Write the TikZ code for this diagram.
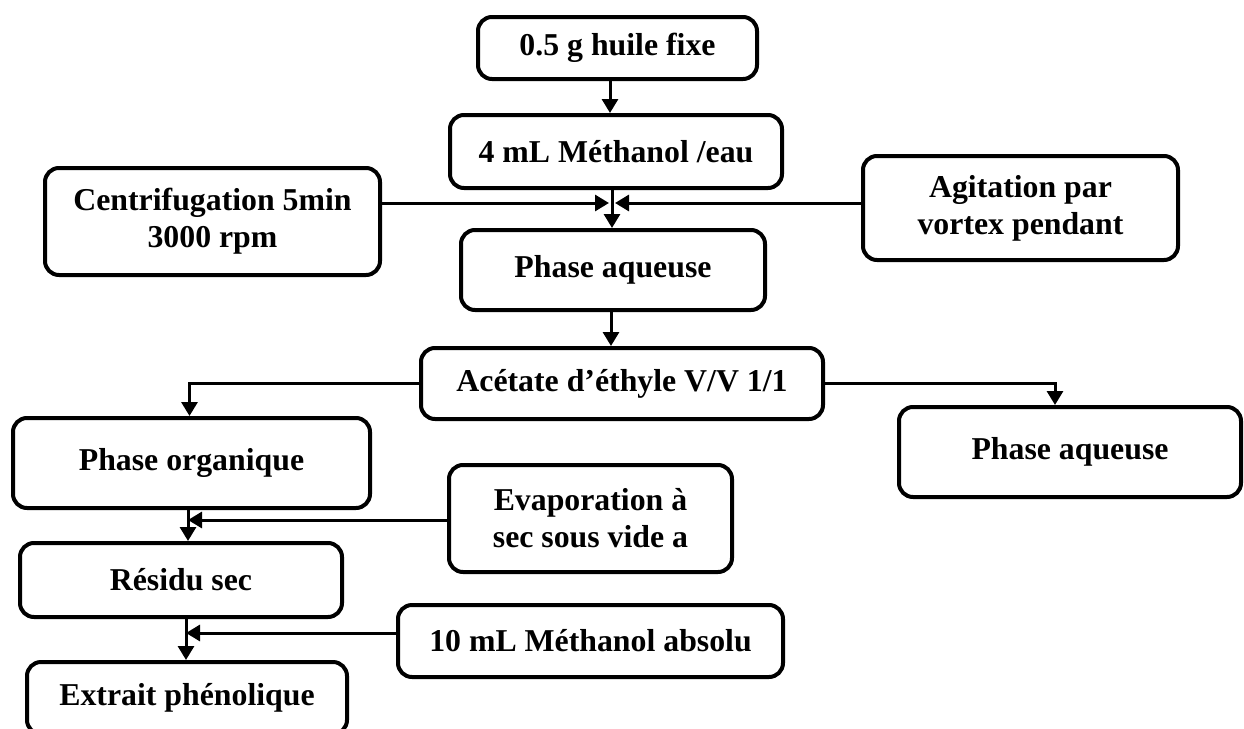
\documentclass[tikz,border=0pt]{standalone}
\usepackage{fontspec}
\setmainfont{Liberation Serif}
\usetikzlibrary{arrows.meta,calc}
\tikzset{
  box/.style={draw=black, line width=2pt, rounded corners=7pt, align=center,
    font=\fontsize{15.9}{18.5}\selectfont\bfseries, inner sep=0pt, fill=white},
  arr/.style={line width=1.5pt, -{Triangle[length=7pt,width=8pt]}},
}
\begin{document}
\begin{tikzpicture}[x=0.5pt,y=-0.5pt]
\clip (0,0) rectangle (1244,729);
\fill[white] (0,0) rectangle (1244,729);
% boxes
\node[box, minimum width=139.5pt, minimum height=31pt] (b1) at (617.5,48) {0.5 g huile fixe};
\node[box, minimum width=166pt, minimum height=36.5pt] (b2) at (616,151.5) {4 mL Méthanol /eau};
\node[box, minimum width=167.5pt, minimum height=53.5pt] (centri) at (212.5,221.5) {Centrifugation 5min\\3000 rpm};
\node[box, minimum width=157.5pt, minimum height=52pt] (agit) at (1020.5,208) {Agitation par\\vortex pendant};
\node[box, minimum width=152pt, minimum height=40pt] (b3) at (613,270) {Phase aqueuse};
\node[box, minimum width=201pt, minimum height=35.5pt] (b4) at (622,383.5) {Acétate d’éthyle V/V 1/1};
\node[box, minimum width=178.5pt, minimum height=45pt] (porg) at (191.5,463) {Phase organique};
\node[box, minimum width=171pt, minimum height=45pt] (paq2) at (1070,452) {Phase aqueuse};
\node[box, minimum width=141.5pt, minimum height=53.5pt] (evap) at (590.5,518.5) {Evaporation à\\sec sous vide a};
\node[box, minimum width=161pt, minimum height=37pt] (residu) at (181,580) {Résidu sec};
\node[box, minimum width=192.5pt, minimum height=36pt] (meth) at (590.5,641) {10 mL Méthanol absolu};
\node[box, minimum width=160pt, minimum height=36pt] (extrait) at (187,698) {Extrait phénolique};
% junction coordinates
\coordinate (c1) at (610,0);
\coordinate (j1) at (612,203);
\coordinate (c2) at (611,0);
\coordinate (j2) at (188,520);
\coordinate (j3) at (186,633);
% connectors
\draw[arr] (b1.south -| c1) -- (b2.north -| c1);
\draw[arr] (b2.south -| j1) -- (b3.north -| j1);
\draw[arr] (centri.east |- j1) -- ($(j1)+(-3,0)$);
\draw[arr] (agit.west |- j1) -- ($(j1)+(3,0)$);
\draw[arr] (b3.south -| c2) -- (b4.north -| c2);
\draw[arr] (b4.west) -| ($(porg.north)+(-2,0)$);
\draw[arr] (b4.east) -| ($(paq2.north)+(-15,0)$);
\draw[arr] (porg.south -| j2) -- (residu.north -| j2);
\draw[arr] (evap.west |- j2) -- (j2);
\draw[arr] (residu.south -| j3) -- (extrait.north -| j3);
\draw[arr] (meth.west |- j3) -- (j3);
\end{tikzpicture}
\end{document}
